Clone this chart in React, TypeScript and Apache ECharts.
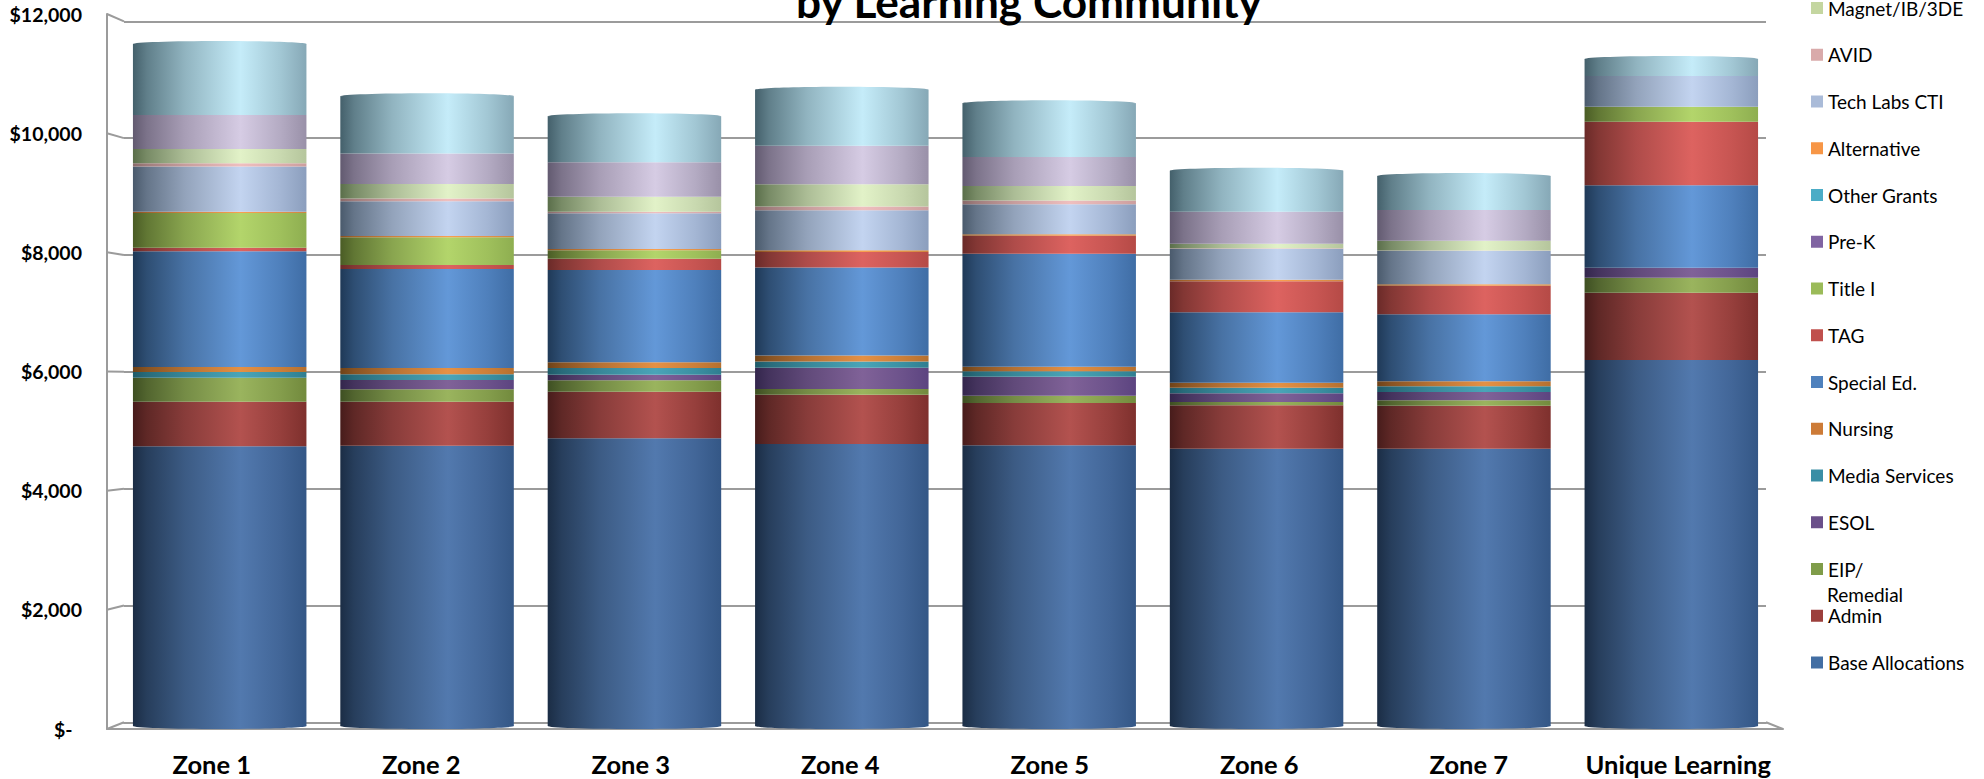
import React, { useEffect, useRef } from "react";
import * as echarts from "echarts";

const categories = ["Zone 1", "Zone 2", "Zone 3", "Zone 4", "Zone 5", "Zone 6", "Zone 7", "Unique Learning"];

const baseAllocations = [4741, 4751, 4876, 4780, 4758, 4700, 4700, 6204];
const admin = [756, 746, 790, 836, 717, 736, 729, 1141];
const eipRemedial = [407, 210, 193, 97, 124, 56, 92, 254];
const esol = [0, 158, 95, 361, 322, 147, 141, 169];
const mediaServices = [97, 97, 114, 102, 92, 95, 97, 0];
const nursing = [85, 107, 97, 102, 78, 85, 85, 0];
const specialEd = [1961, 1678, 1564, 1492, 1915, 1193, 1136, 1397];
const tag = [61, 68, 192, 266, 305, 525, 480, 1078];
const titleI = [588, 470, 142, 0, 0, 0, 0, 254];
const preK = [0, 0, 0, 0, 0, 0, 0, 0];
const otherGrants = [0, 0, 0, 0, 0, 0, 0, 0];
const alternative = [22, 22, 22, 29, 24, 27, 29, 0];
const techLabsCti = [763, 588, 605, 678, 509, 525, 564, 520];
const avid = [58, 44, 27, 61, 61, 10, 8, 0];
const magnet = [242, 249, 254, 380, 249, 75, 164, 0];
const upperBand = [576, 514, 583, 649, 492, 542, 520, 0];
const topBand = [1203, 973, 780, 949, 910, 695, 575, 290];

const tickValues = [0, 2000, 4000, 6000, 8000, 10000, 12000];
const tickLabels = ["$-  ", "$2,000", "$4,000", "$6,000", "$8,000", "$10,000", "$12,000"];

// name, values, left shade, highlight, right shade, legend swatch
const seriesDefs: [string, number[], string, string, string, string | null][] = [
  ["Base Allocations", baseAllocations, "#1b2d45", "#5279ae", "#345786", "#426ea3"],
  ["Admin", admin, "#471c1b", "#b3524f", "#7e302d", "#9c3f3c"],
  ["EIP/ Remedial", eipRemedial, "#3e4f22", "#9ab45e", "#728a3d", "#7f9c49"],
  ["ESOL", esol, "#33264c", "#806298", "#5c4480", "#6a4f89"],
  ["Media Services", mediaServices, "#1e5a68", "#4aa5b8", "#2f7e90", "#3a8ea5"],
  ["Nursing", nursing, "#6e4218", "#e59145", "#b5702f", "#cd7b37"],
  ["Special Ed.", specialEd, "#1f3957", "#6398d8", "#3f6da5", "#4f81bd"],
  ["TAG", tag, "#6a2a28", "#dd6360", "#b54a46", "#c0504d"],
  ["Title I", titleI, "#4a5c25", "#b3d56b", "#8eae50", "#9bbb59"],
  ["Pre-K", preK, "#33264c", "#8064a2", "#5c4480", "#8064a2"],
  ["Other Grants", otherGrants, "#206070", "#4ab0c8", "#3088a0", "#4bacc6"],
  ["Alternative", alternative, "#8a5020", "#f9a050", "#d08540", "#f79646"],
  ["Tech Labs CTI", techLabsCti, "#4a5a6c", "#c3d4f0", "#8b9ebd", "#aabbd8"],
  ["AVID", avid, "#8a6a6a", "#efbfbf", "#cc9e9e", "#d9aaaa"],
  ["Magnet/IB/3DE", magnet, "#5a6e4a", "#e2f2c8", "#b5c59c", "#c4d6a0"],
  ["Upper Band", upperBand, "#625a70", "#d6cce4", "#9990a8", null],
  ["Top Band", topBand, "#44606b", "#c5ecf9", "#86a8b6", null],
];

const FONT = "Lato";
const LINE = "#9b9b9b";
const LINE_W = 2;
const FRONT = { left: 107, right: 1783, top: 14, bottom: 729 };
const BACK = { left: 124, right: 1766, top: 21.3, bottom: 722.3 };
const BARS = { left: 116, width: 1659, top: 18, height: 708 };
const BAR_W = 173.5;

function mix(a: string, b: string, t: number) {
  const p = (s: string) => [1, 3, 5].map((i) => parseInt(s.slice(i, i + 2), 16));
  const A = p(a);
  const B = p(b);
  return "rgb(" + A.map((v, i) => Math.round(v + (B[i] - v) * t)).join(",") + ")";
}

function cyl(l: string, m: string, r: string) {
  return new echarts.graphic.LinearGradient(0, 0, 1, 0, [
    { offset: 0, color: l },
    { offset: 0.08, color: mix(l, m, 0.22) },
    { offset: 0.3, color: mix(l, m, 0.6) },
    { offset: 0.62, color: m },
    { offset: 0.85, color: mix(r, m, 0.45) },
    { offset: 1, color: r },
  ]);
}

export default function App() {
  const ref = useRef<HTMLDivElement>(null);
  useEffect(() => {
    document.body.style.margin = "0";
    const chart = echarts.init(ref.current!, null, { renderer: "svg" });
    const totals = categories.map((_, i) => seriesDefs.reduce((s, d) => s + d[1][i], 0));
    const base = seriesDefs[0];
    const top = seriesDefs[seriesDefs.length - 1];
    const capSeries = (name: string, values: number[], def: typeof base) => ({
      type: "custom",
      name,
      xAxisIndex: 2,
      yAxisIndex: 2,
      z: 1,
      silent: true,
      encode: { x: 0, y: 1 },
      data: values.map((v, i) => [i, v]),
      renderItem: (_p: any, api: any) => {
        const c = api.coord([api.value(0), api.value(1)]);
        return {
          type: "ellipse",
          shape: { cx: c[0], cy: c[1], rx: BAR_W / 2, ry: 3 },
          style: { fill: cyl(def[2], def[3], def[4]) },
        };
      },
    });
    const diagonals = tickValues.map((v) => {
      const t = v / 12000;
      return {
        type: "line",
        z: 0,
        shape: {
          x1: FRONT.left,
          y1: FRONT.bottom - t * (FRONT.bottom - FRONT.top),
          x2: BACK.left,
          y2: BACK.bottom - t * (BACK.bottom - BACK.top),
        },
        style: { stroke: LINE, lineWidth: LINE_W },
      };
    });
    chart.setOption({
      animation: false,
      backgroundColor: "#ffffff",
      title: {
        text: "by Learning Community",
        left: 1024,
        top: -27,
        textAlign: "center",
        textStyle: { fontFamily: FONT, fontWeight: "bold", fontSize: 44.2, color: "#000000" },
      },
      legend: {
        orient: "vertical",
        left: 1806,
        top: -6.5,
        itemWidth: 12,
        itemHeight: 12,
        itemGap: 27.75,
        align: "left",
        selectedMode: false,
        formatter: (n: string) => (n === "EIP/ Remedial" ? "EIP/" : n),
        textStyle: { fontFamily: FONT, fontSize: 19, color: "#000000" },
        data: seriesDefs
          .filter((d) => d[5])
          .slice()
          .reverse()
          .map((d) => ({ name: d[0], icon: "rect", itemStyle: { color: d[5] } })),
      },
      grid: [
        { left: FRONT.left, top: FRONT.top, width: FRONT.right - FRONT.left, height: FRONT.bottom - FRONT.top },
        { left: BACK.left, top: BACK.top, width: BACK.right - BACK.left, height: BACK.bottom - BACK.top },
        { left: BARS.left, top: BARS.top, width: BARS.width, height: BARS.height },
      ],
      xAxis: [
        {
          type: "category",
          gridIndex: 0,
          data: categories,
          axisTick: { show: false },
          axisLine: { lineStyle: { color: LINE, width: LINE_W } },
          axisLabel: { margin: 22, interval: 0, fontFamily: FONT, fontWeight: "bold", fontSize: 25.5, color: "#000000" },
        },
        {
          type: "category",
          gridIndex: 1,
          data: categories,
          axisTick: { show: false },
          axisLabel: { show: false },
          axisLine: { lineStyle: { color: LINE, width: LINE_W } },
        },
        { type: "category", gridIndex: 2, data: categories, show: false },
      ],
      yAxis: [
        {
          type: "value",
          gridIndex: 0,
          min: 0,
          max: 12000,
          interval: 2000,
          splitLine: { show: false },
          axisTick: { show: false },
          axisLine: { show: true, lineStyle: { color: LINE, width: LINE_W } },
          axisLabel: {
            margin: 25,
            fontFamily: FONT,
            fontWeight: "bold",
            fontSize: 19.5,
            color: "#000000",
            formatter: (v: number) => tickLabels[tickValues.indexOf(v)],
          },
        },
        {
          type: "value",
          gridIndex: 1,
          min: 0,
          max: 12000,
          interval: 2000,
          axisLabel: { show: false },
          axisTick: { show: false },
          axisLine: { show: false },
          splitLine: { show: true, lineStyle: { color: LINE, width: LINE_W } },
        },
        { type: "value", gridIndex: 2, min: 0, max: 12000, show: false, splitLine: { show: false } },
      ],
      graphic: [
        ...diagonals,
        {
          type: "line",
          z: 0,
          shape: { x1: BACK.right, y1: BACK.bottom, x2: FRONT.right, y2: FRONT.bottom },
          style: { stroke: LINE, lineWidth: LINE_W },
        },
        {
          type: "text",
          x: 1827,
          y: 585,
          style: { text: "Remedial", fontFamily: FONT, fontSize: 19, fill: "#000000" },
        },
      ],
      series: [
        capSeries("cap-top", totals, top),
        capSeries("cap-bottom", categories.map(() => 0), base),
        ...seriesDefs.map((d) => ({
          type: "bar",
          name: d[0],
          stack: "total",
          xAxisIndex: 2,
          yAxisIndex: 2,
          barWidth: BAR_W,
          z: 3,
          data: d[1],
          itemStyle: { color: cyl(d[2], d[3], d[4]) },
        })),
      ],
    });
    return () => chart.dispose();
  }, []);
  return <div ref={ref} style={{ position: "absolute", left: 0, top: 0, width: 1984, height: 779 }} />;
}
